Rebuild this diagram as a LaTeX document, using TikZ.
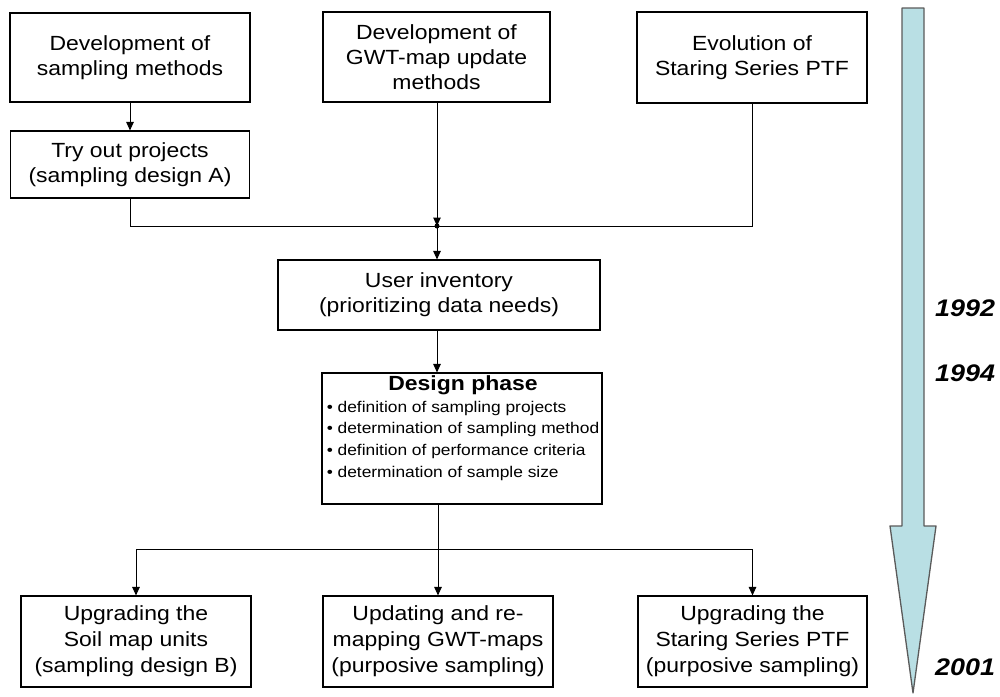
\documentclass[tikz,border=0pt]{standalone}
\usepackage{fontspec}
\setmainfont{Liberation Sans}[FakeStretch=1.12]
\usetikzlibrary{arrows.meta}
\definecolor{arrowfill}{RGB}{185,223,228}
\definecolor{arrowedge}{RGB}{90,90,90}
\begin{document}
\begin{tikzpicture}[x=1pt,y=-1pt,
  box/.style={draw=black, line width=1.1pt, align=center, inner sep=0pt,
    font=\fontsize{20.5}{25}\selectfont},
  arr/.style={-{Triangle[length=8.5pt,width=7.5pt]}, line width=1pt},
  conn/.style={line width=1pt},
  year/.style={anchor=west, inner sep=0pt,
    font=\fontsize{24}{26}\selectfont\bfseries\itshape}]
\useasboundingbox (0,0) rectangle (1000,696);

% boxes
\node[box, minimum width=240pt, minimum height=89pt] (dev) at (130,57.5) {Development of\\sampling methods};
\node[box, minimum width=239pt, minimum height=67pt] (try) at (130,164.5) {Try out projects\\(sampling design A)};
\node[box, minimum width=227pt, minimum height=90pt] (gwt) at (436.5,57) {Development of\\GWT-map update\\methods};
\node[box, minimum width=230pt, minimum height=91pt] (evo) at (752,57.5) {Evolution of\\Staring Series PTF};
\node[box, minimum width=322pt, minimum height=70pt] (user) at (439,295) {User inventory\\(prioritizing data needs)};
\node[box, minimum width=280pt, minimum height=131pt] (design) at (462,438.5) {};
\node[anchor=north, inner sep=0pt, align=left, font=\fontsize{15.5}{21.7}\selectfont] (designtxt) at (463,375) {%
\begin{tabular}{@{}l@{}}
\multicolumn{1}{@{}c@{}}{\fontsize{20.5}{22}\selectfont\bfseries Design phase}\\
• definition of sampling projects\\
• determination of sampling method\\
• definition of performance criteria\\
• determination of sample size
\end{tabular}};
\node[box, minimum width=230pt, minimum height=91pt, font=\fontsize{20.5}{26}\selectfont] (b1) at (136,641.5) {Upgrading the\\Soil map units\\(sampling design B)};
\node[box, minimum width=230pt, minimum height=91pt, font=\fontsize{20.5}{26}\selectfont] (b2) at (438,641.5) {Updating and re-\\mapping GWT-maps\\(purposive sampling)};
\node[box, minimum width=229pt, minimum height=91pt, font=\fontsize{20.5}{26}\selectfont] (b3) at (752.5,641.5) {Upgrading the\\Staring Series PTF\\(purposive sampling)};

% junctions
\coordinate (j) at (437,226);
\coordinate (d) at (438,549);

% connectors
\draw[arr] (dev) -- (try);
\draw[conn] (try.south) |- (j);
\draw[conn] (evo.south) |- (j);
\draw[arr] (gwt.south -| j) -- (j);
\fill (j) circle (2.5pt);
\draw[arr] (j) -- (user.north -| j);
\draw[arr] (user.south -| j) -- (design.north -| j);
\draw[conn] (design.south -| d) -- (d);
\draw[conn] (b1.north |- d) -- (b3.north |- d);
\draw[arr] (b1.north |- d) -- (b1.north);
\draw[arr] (d) -- (b2.north);
\draw[arr] (b3.north |- d) -- (b3.north);

% time arrow
\draw[fill=arrowfill, draw=arrowedge, line width=1.3pt, line join=round]
  (902,8) -- (924,8) -- (924,526) -- (936,526) -- (913,693) -- (890,526) -- (902,526) -- cycle;
\node[year] (y1992) at (935,308) {1992};
\node[year] (y1994) at (935,373) {1994};
\node[year] (y2001) at (935,667) {2001};
\end{tikzpicture}
\end{document}
